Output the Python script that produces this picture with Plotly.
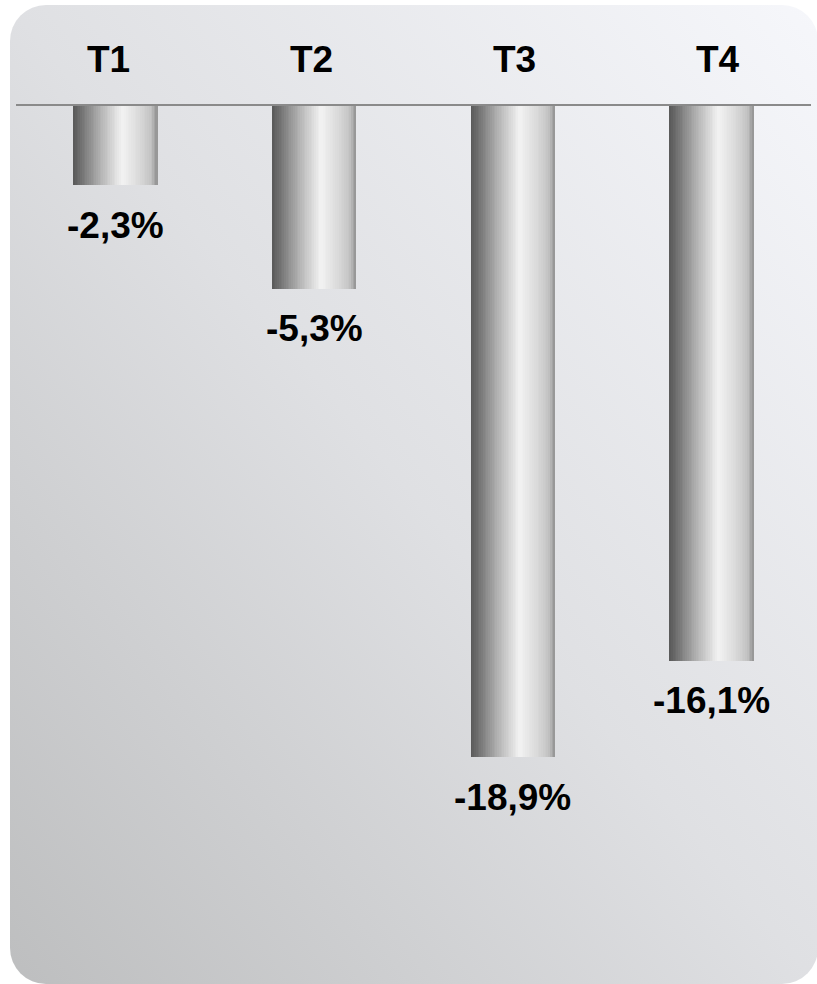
import base64
import plotly.graph_objects as go

# ---- data ----
categories = ["T1", "T2", "T3", "T4"]
values = [-2.3, -5.3, -18.9, -16.1]
value_labels = ["-2,3%", "-5,3%", "-18,9%", "-16,1%"]

# ---- style ----
W, H = 817, 984
FONT = "Liberation Sans, Arial, sans-serif"
BAR_W = 0.425
N_SLICES = 48
bar_stops = [(0.0, (88, 88, 88)), (0.12, (120, 120, 120)), (0.32, (178, 178, 178)),
             (0.58, (243, 243, 243)), (0.78, (218, 218, 218)), (0.92, (195, 195, 195)),
             (1.0, (145, 145, 145))]


def interp(t):
    for (t0, c0), (t1, c1) in zip(bar_stops[:-1], bar_stops[1:]):
        if t0 <= t <= t1:
            f = (t - t0) / (t1 - t0) if t1 > t0 else 0
            return "rgb(%d,%d,%d)" % tuple(round(a + (b - a) * f) for a, b in zip(c0, c1))
    return "rgb(%d,%d,%d)" % bar_stops[-1][1]


fig = go.Figure()
step = BAR_W / N_SLICES
for k in range(N_SLICES):
    t = (k + 0.5) / N_SLICES
    last = k == N_SLICES - 1
    fig.add_trace(go.Bar(
        x=categories, y=values,
        width=step if last else step * 1.6,
        offset=-BAR_W / 2 + k * step,
        marker=dict(color=interp(t), line=dict(width=0)),
        showlegend=False, hoverinfo="skip",
    ))

# invisible trace carrying the category-label axis
fig.add_trace(go.Scatter(x=list(range(len(categories))), y=[None] * len(categories),
                         xaxis="x2", yaxis="y", mode="markers",
                         showlegend=False, hoverinfo="skip"))

for c, v, lab in zip(categories, values, value_labels):
    fig.add_annotation(x=c, y=v, text=lab, showarrow=False, yanchor="middle",
                       yshift=-40, font=dict(family=FONT, size=37, color="#000000", weight=700))

# background: rounded rectangle with diagonal gradient
svg = f'''<svg xmlns="http://www.w3.org/2000/svg" width="{W}" height="{H}" viewBox="0 0 {W} {H}">
<defs><linearGradient id="g" x1="0" y1="1" x2="1" y2="0">
<stop offset="0" stop-color="#bdbebf"/><stop offset="0.5" stop-color="#dfe0e3"/><stop offset="1" stop-color="#f6f7fb"/>
</linearGradient></defs>
<rect x="10" y="5" width="808" height="979" rx="36" ry="36" fill="url(#g)"/></svg>'''
src = "data:image/svg+xml;base64," + base64.b64encode(svg.encode()).decode()

top_px = 106
px_per_unit = 34.45
ymin = -(H - top_px) / px_per_unit

x_lo, x_hi = 16, 811
lab_px_unit = 203.0
lab_r0 = -(108.5 - x_lo) / lab_px_unit
lab_r1 = lab_r0 + (x_hi - x_lo) / lab_px_unit

fig.update_layout(
    width=W, height=H,
    margin=dict(l=0, r=0, t=0, b=0, autoexpand=False),
    paper_bgcolor="white", plot_bgcolor="rgba(0,0,0,0)",
    barmode="overlay", bargap=0,
    images=[dict(source=src, xref="paper", yref="paper", x=0, y=1, sizex=1, sizey=1,
                 xanchor="left", yanchor="top", sizing="stretch", layer="below")],
    xaxis=dict(domain=[x_lo / W, x_hi / W], range=[-0.5, 3.5], side="top",
               showline=True, linecolor="#8a8a8a", linewidth=2, ticks="",
               showticklabels=False, showgrid=False, zeroline=False, automargin=False),
    xaxis2=dict(domain=[x_lo / W, x_hi / W], range=[lab_r0, lab_r1], overlaying="x",
                side="top", anchor="y", showline=False, ticks="", showgrid=False,
                zeroline=False, automargin=False, ticklabelstandoff=26,
                tickvals=list(range(len(categories))), ticktext=categories,
                tickfont=dict(family=FONT, size=37, color="#000000", weight=700)),
    yaxis=dict(domain=[0, 1 - top_px / H], range=[ymin, 0], visible=False,
               showgrid=False, zeroline=False),
)

fig.write_html("out.html")
